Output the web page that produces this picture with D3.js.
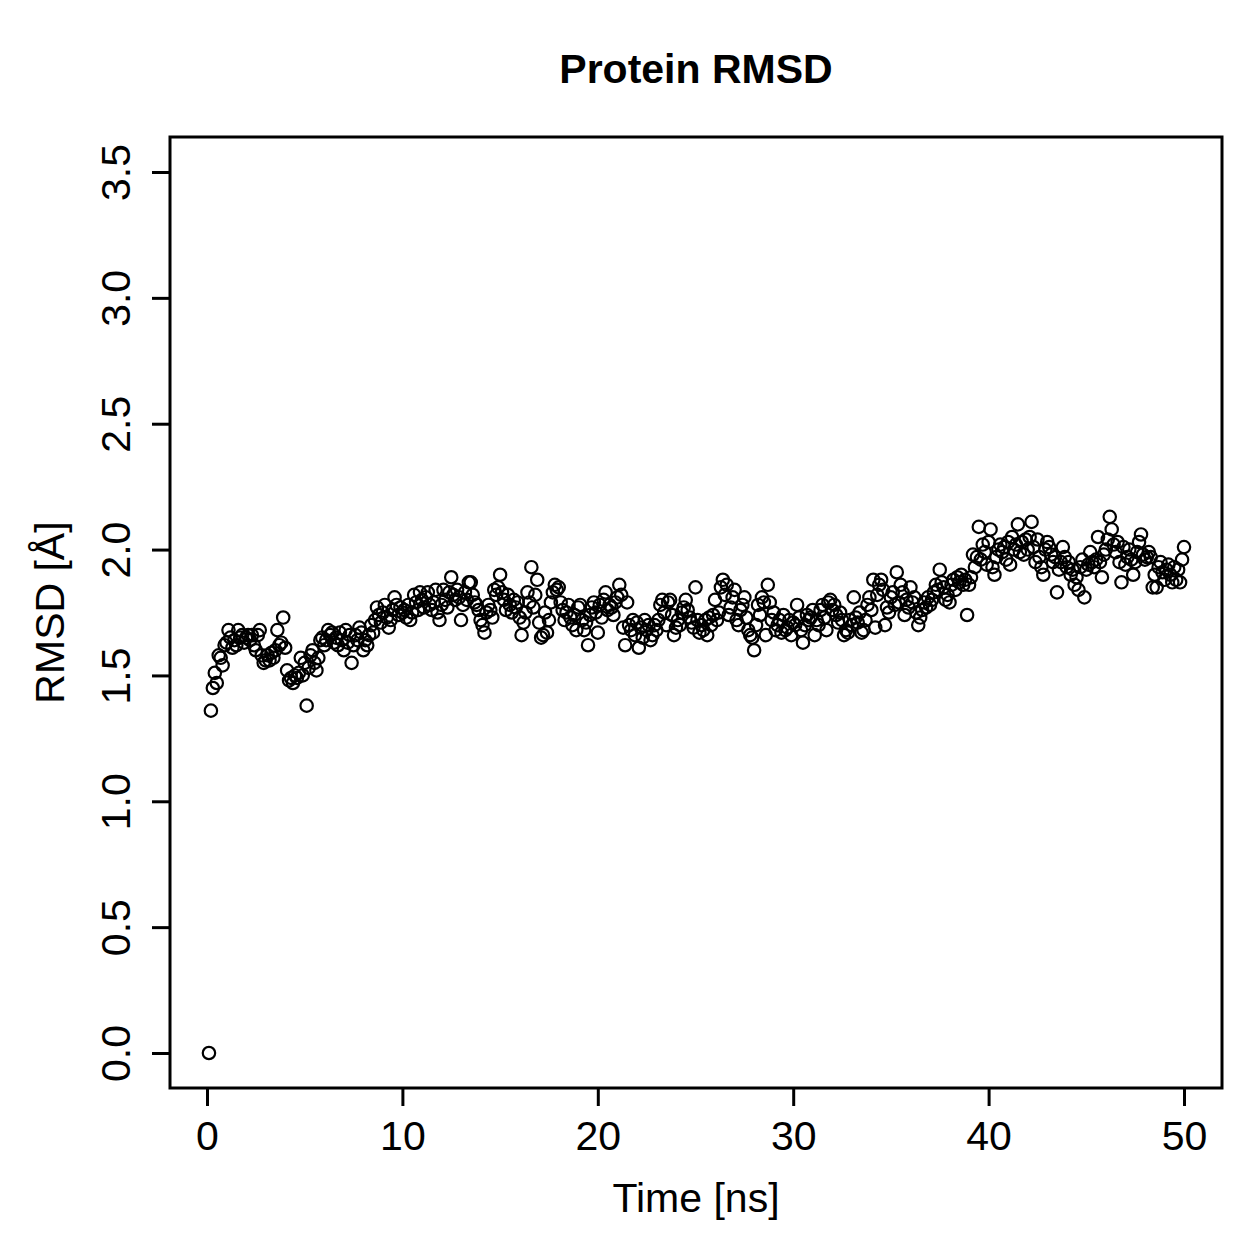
<!DOCTYPE html>
<html>
<head>
<meta charset="utf-8">
<script src="https://cdn.jsdelivr.net/npm/d3@7"></script>
<style>
  body { margin: 0; background: #fff; }
  text { font-family: "Liberation Sans", Arial, Helvetica, sans-serif; }
</style>
</head>
<body>
<div class="plot"></div>
<script>
"use strict";

// RMSD samples, one every 0.1 ns starting at 0.1 ns
const rmsd_0_10 = [
    0.00, 1.36, 1.45, 1.51, 1.47, 1.58, 1.57, 1.54, 1.62, 1.63,
    1.68, 1.65, 1.61, 1.64, 1.62, 1.68, 1.65, 1.66, 1.63, 1.65,
    1.66, 1.64, 1.66, 1.62, 1.60, 1.66, 1.68, 1.58, 1.55, 1.56,
    1.58, 1.56, 1.59, 1.57, 1.60, 1.68, 1.62, 1.63, 1.73, 1.61,
    1.52, 1.48, 1.49, 1.47, 1.50, 1.49, 1.51, 1.57, 1.50, 1.55,
    1.38, 1.53, 1.58, 1.60, 1.55, 1.52, 1.57, 1.64, 1.65, 1.62,
    1.64, 1.68, 1.66, 1.67, 1.63, 1.65, 1.62, 1.67, 1.64, 1.60,
    1.68, 1.63, 1.66, 1.55, 1.62, 1.66, 1.64, 1.69, 1.67, 1.60,
    1.64, 1.62, 1.66, 1.70, 1.67, 1.72, 1.77, 1.74, 1.71, 1.75,
    1.78, 1.73, 1.69, 1.72, 1.76, 1.81, 1.78, 1.74, 1.77, 1.75
];
const rmsd_10_20 = [
    1.76, 1.73, 1.78, 1.72, 1.75, 1.82, 1.79, 1.76, 1.83, 1.80,
    1.77, 1.81, 1.83, 1.78, 1.76, 1.79, 1.84, 1.75, 1.72, 1.78,
    1.84, 1.80, 1.77, 1.83, 1.89, 1.82, 1.80, 1.84, 1.81, 1.72,
    1.78, 1.83, 1.80, 1.87, 1.87, 1.82, 1.79, 1.78, 1.76, 1.72,
    1.70, 1.67, 1.75, 1.78, 1.76, 1.73, 1.84, 1.82, 1.85, 1.90,
    1.83, 1.80, 1.76, 1.82, 1.78, 1.75, 1.80, 1.77, 1.79, 1.73,
    1.66, 1.71, 1.75, 1.83, 1.79, 1.93, 1.77, 1.82, 1.88, 1.71,
    1.65, 1.66, 1.75, 1.67, 1.72, 1.79, 1.83, 1.86, 1.84, 1.85,
    1.79, 1.76, 1.72, 1.75, 1.78, 1.73, 1.70, 1.74, 1.68, 1.77,
    1.78, 1.72, 1.68, 1.71, 1.62, 1.74, 1.77, 1.79, 1.75, 1.67
];
const rmsd_20_30 = [
    1.78, 1.73, 1.80, 1.83, 1.76, 1.78, 1.77, 1.74, 1.79, 1.81,
    1.86, 1.82, 1.69, 1.62, 1.79, 1.70, 1.68, 1.72, 1.66, 1.71,
    1.61, 1.69, 1.65, 1.72, 1.68, 1.70, 1.64, 1.66, 1.70, 1.68,
    1.72, 1.78, 1.80, 1.75, 1.70, 1.79, 1.80, 1.74, 1.66, 1.69,
    1.72, 1.70, 1.75, 1.77, 1.80, 1.76, 1.73, 1.71, 1.69, 1.85,
    1.72, 1.67, 1.70, 1.68, 1.72, 1.66, 1.73, 1.70, 1.74, 1.80,
    1.72, 1.75, 1.85, 1.88, 1.82, 1.86, 1.74, 1.77, 1.81, 1.84,
    1.72, 1.70, 1.76, 1.78, 1.81, 1.73, 1.68, 1.66, 1.65, 1.60,
    1.70, 1.78, 1.74, 1.81, 1.79, 1.66, 1.86, 1.79, 1.72, 1.75,
    1.68, 1.70, 1.72, 1.67, 1.74, 1.68, 1.69, 1.72, 1.66, 1.71
];
const rmsd_30_40 = [
    1.70, 1.78, 1.73, 1.68, 1.63, 1.70, 1.74, 1.72, 1.73, 1.76,
    1.66, 1.72, 1.70, 1.76, 1.78, 1.73, 1.68, 1.79, 1.80, 1.76,
    1.78, 1.74, 1.71, 1.75, 1.72, 1.66, 1.68, 1.67, 1.72, 1.70,
    1.81, 1.73, 1.71, 1.75, 1.67, 1.68, 1.72, 1.78, 1.81, 1.76,
    1.88, 1.69, 1.82, 1.86, 1.88, 1.84, 1.70, 1.77, 1.75, 1.81,
    1.83, 1.78, 1.91, 1.79, 1.86, 1.83, 1.74, 1.80, 1.77, 1.85,
    1.79, 1.81, 1.75, 1.70, 1.73, 1.76, 1.79, 1.77, 1.81, 1.78,
    1.80, 1.83, 1.86, 1.84, 1.92, 1.87, 1.85, 1.80, 1.82, 1.79,
    1.86, 1.88, 1.84, 1.89, 1.87, 1.90, 1.86, 1.88, 1.74, 1.86,
    1.89, 1.98, 1.93, 1.97, 2.09, 1.96, 2.02, 1.99, 1.94, 2.03
];
const rmsd_40_50 = [
    2.08, 1.93, 1.90, 1.97, 2.00, 2.02, 1.99, 2.01, 1.96, 2.03,
    1.94, 2.05, 2.00, 2.02, 2.10, 1.99, 2.03, 1.98, 2.04, 2.00,
    2.05, 2.11, 2.01, 1.95, 2.04, 1.97, 1.93, 1.90, 2.00, 2.03,
    2.01, 1.98, 1.95, 1.97, 1.83, 1.92, 1.95, 2.01, 1.97, 1.93,
    1.95, 1.90, 1.92, 1.86, 1.89, 1.84, 1.93, 1.96, 1.81, 1.92,
    1.94, 1.99, 1.95, 1.93, 1.96, 2.05, 1.95, 1.89, 1.98, 2.00,
    2.04, 2.13, 2.08, 2.02, 1.99, 2.03, 1.95, 1.87, 2.01, 1.94,
    1.97, 2.00, 1.96, 1.90, 1.95, 1.99, 2.03, 2.06, 1.98, 1.96,
    1.97, 1.99, 1.97, 1.85, 1.90, 1.85, 1.93, 1.95, 1.91, 1.88,
    1.92, 1.94, 1.90, 1.87, 1.93, 1.88, 1.92, 1.87, 1.96, 2.01
];
const timeStep = 0.1;
const xTicks = [0, 10, 20, 30, 40, 50];
const yTicks = [0.0, 0.5, 1.0, 1.5, 2.0, 2.5, 3.0, 3.5];

const rmsd = [].concat(rmsd_0_10, rmsd_10_20, rmsd_20_30, rmsd_30_40, rmsd_40_50);
const points = rmsd.map((v, i) => ({ t: (i + 1) * timeStep, v: v }));

const W = 1259, H = 1259;
const box = { left: 170, right: 1222, top: 137, bottom: 1088 };
const FONT = 41;

var svg = d3.select(".plot")
    .append("svg")
    .attr("width", W)
    .attr("height", H)
    .style("background", "#fff");

var x = d3.scaleLinear().domain([0, 50]).range([207, 1184]);
var y = d3.scaleLinear().domain([0, 3.5]).range([1053, 172]);

// points
svg.append("g")
    .selectAll("circle")
    .data(points)
    .enter()
    .append("circle")
    .attr("cx", d => x(d.t))
    .attr("cy", d => y(d.v))
    .attr("r", 6.2)
    .attr("fill", "none")
    .attr("stroke", "#000")
    .attr("stroke-width", 2.2);

// frame
svg.append("rect")
    .attr("x", box.left)
    .attr("y", box.top)
    .attr("width", box.right - box.left)
    .attr("height", box.bottom - box.top)
    .attr("fill", "none")
    .attr("stroke", "#000")
    .attr("stroke-width", 3);

// x axis
var gx = svg.append("g")
    .attr("transform", "translate(0," + box.bottom + ")")
    .call(d3.axisBottom(x).tickValues(xTicks).tickSize(18).tickFormat(d3.format("d")));
gx.select(".domain").remove();
gx.selectAll(".tick line").attr("stroke-width", 3);
gx.selectAll(".tick text")
    .attr("y", 62)
    .attr("dy", null)
    .attr("font-size", FONT)
    .attr("font-family", "Liberation Sans, Arial, sans-serif")
    .attr("fill", "#000");

// y axis
var gy = svg.append("g")
    .attr("transform", "translate(" + box.left + ",0)")
    .call(d3.axisLeft(y).tickValues(yTicks).tickSize(18).tickFormat(d3.format(".1f")));
gy.select(".domain").remove();
gy.selectAll(".tick line").attr("stroke-width", 3);
gy.selectAll(".tick text")
    .attr("transform", "rotate(-90)")
    .attr("x", 0)
    .attr("y", -40)
    .attr("dy", null)
    .attr("text-anchor", "middle")
    .attr("font-size", FONT)
    .attr("font-family", "Liberation Sans, Arial, sans-serif")
    .attr("fill", "#000");

// title and axis labels
svg.append("text")
    .attr("x", (box.left + box.right) / 2)
    .attr("y", 83)
    .attr("text-anchor", "middle")
    .attr("font-size", FONT)
    .attr("font-weight", "bold")
    .text("Protein RMSD");

svg.append("text")
    .attr("x", (box.left + box.right) / 2)
    .attr("y", 1212)
    .attr("text-anchor", "middle")
    .attr("font-size", FONT)
    .text("Time [ns]");

svg.append("text")
    .attr("transform", "translate(64," + ((box.top + box.bottom) / 2) + ") rotate(-90)")
    .attr("text-anchor", "middle")
    .attr("font-size", FONT)
    .text("RMSD [Å]");
</script>
</body>
</html>
